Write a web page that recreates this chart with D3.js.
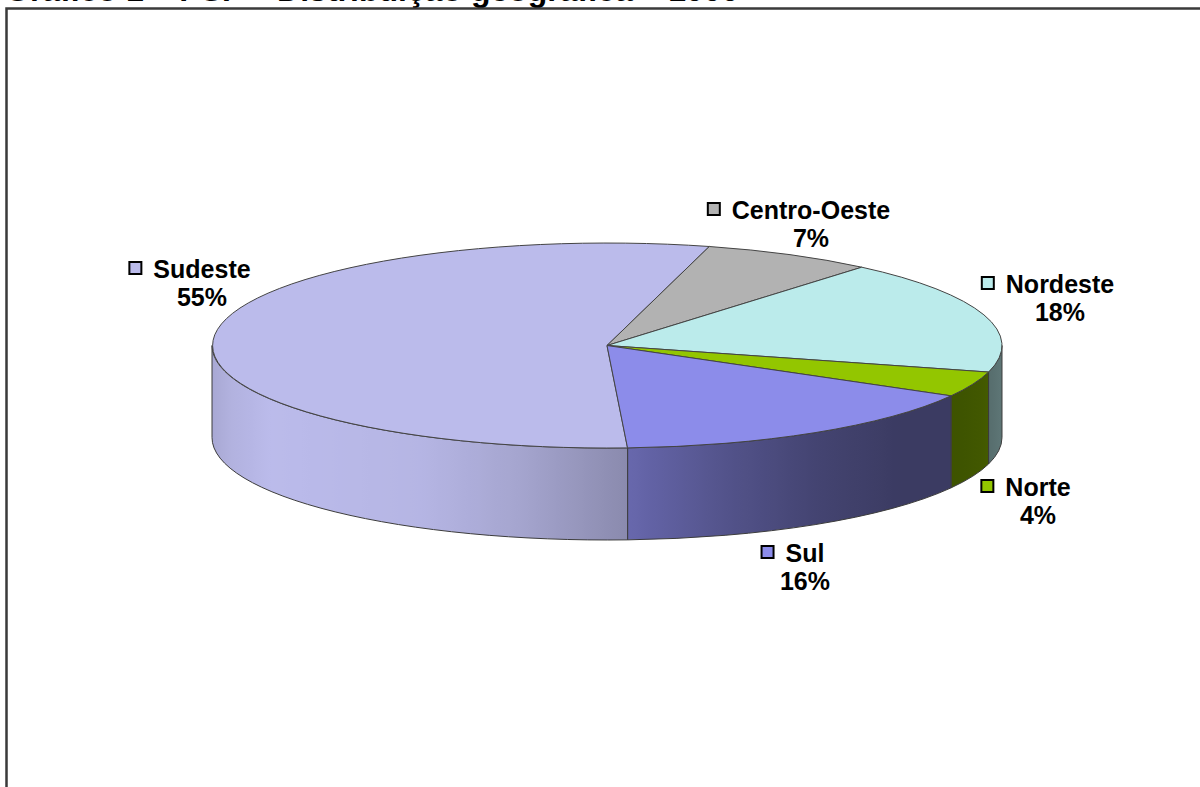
<!DOCTYPE html>
<html>
<head>
<meta charset="utf-8">
<script src="https://cdn.jsdelivr.net/npm/d3@7"></script>
<style>
  html, body { margin: 0; padding: 0; background: #ffffff; overflow: hidden; }
  svg { display: block; }
  text { font-family: Arial, "Liberation Sans", sans-serif; font-weight: bold; fill: #000; }
</style>
</head>
<body>
<script>
// Regional shares (%)
const categories = ["Sudeste", "Centro-Oeste", "Nordeste", "Norte", "Sul"];
const shares = [55, 7, 18, 4, 16];
const titleText = "Gráfico 1 – PSF – Distribuição geográfica – 1999";

// Styling
const topColors = ["#BBBBEB", "#B2B2B2", "#BBEBEB", "#93C600", "#8C8CEA"];
const labelPos = {
  "Sudeste":      { x: 202,  y: 278 },
  "Centro-Oeste": { x: 811,  y: 219 },
  "Nordeste":     { x: 1060, y: 293 },
  "Norte":        { x: 1038, y: 496 },
  "Sul":          { x: 805,  y: 562 }
};

const W = 1200, H = 787;
const cx = 607, cy = 345.5, rx = 395, ry = 102.5, depth = 92;
const deg = Math.PI / 180;
const start = 177 * deg;

const svg = d3.select("body").append("svg")
  .attr("width", W).attr("height", H);

// Title (sits above the frame)
svg.append("text")
  .attr("x", 5).attr("y", 0.5)
  .style("font-size", "32px")
  .text(titleText);

// Chart frame
svg.append("rect")
  .attr("x", 6.5).attr("y", 8.5)
  .attr("width", 1210).attr("height", 800)
  .attr("fill", "none")
  .attr("stroke", "#3a3a3a")
  .attr("stroke-width", 2.5);

const pie = d3.pie().sort(null).value(d => d)
  .startAngle(start).endAngle(start + 2 * Math.PI);
const arcs = pie(shares);

// Side shading: brightness as a function of horizontal position
const shade = d3.scaleLinear()
  .domain([212, 232, 270, 420, 520, 627, 720, 820, 900, 960, 985, 1002])
  .range([0.9, 0.95, 1.0, 0.97, 0.88, 0.74, 0.6, 0.48, 0.42, 0.42, 0.45, 0.5])
  .clamp(true);

const defs = svg.append("defs");
arcs.forEach((d, i) => {
  const g = defs.append("linearGradient")
    .attr("id", "side-" + i)
    .attr("gradientUnits", "userSpaceOnUse")
    .attr("x1", cx - rx).attr("x2", cx + rx)
    .attr("y1", 0).attr("y2", 0);
  const base = d3.rgb(topColors[i]);
  d3.range(0, 81).forEach(k => {
    const x = (cx - rx) + (2 * rx) * k / 80;
    const f = shade(x);
    g.append("stop")
      .attr("offset", k / 80)
      .attr("stop-color", d3.rgb(base.r * f, base.g * f, base.b * f).formatHex());
  });
});

const pt = (a, dy = 0) => [cx + rx * Math.sin(a), cy - ry * Math.cos(a) + dy];

// Visible (front) part of each slice's outer wall
const frontRanges = [[90 * deg, 270 * deg], [450 * deg, 630 * deg]];
const sides = [];
arcs.forEach((d, i) => {
  frontRanges.forEach(([f0, f1]) => {
    const s = Math.max(d.startAngle, f0), e = Math.min(d.endAngle, f1);
    if (e > s) sides.push({ i, s, e });
  });
});

const sidePath = ({ s, e }) => {
  const [x0, y0] = pt(s), [x1, y1] = pt(e);
  const [x2, y2] = pt(e, depth), [x3, y3] = pt(s, depth);
  return `M${x0},${y0}A${rx},${ry} 0 0 1 ${x1},${y1}L${x2},${y2}` +
         `A${rx},${ry} 0 0 0 ${x3},${y3}Z`;
};

svg.append("g").selectAll("path")
  .data(sides)
  .join("path")
  .attr("d", sidePath)
  .attr("fill", d => `url(#side-${d.i})`)
  .attr("stroke", "#3c3c3c")
  .attr("stroke-width", 1)
  .attr("stroke-linejoin", "round");

// Top face: unit pie scaled into an ellipse
const arc = d3.arc().innerRadius(0).outerRadius(1);
svg.append("g")
  .attr("transform", `translate(${cx},${cy}) scale(${rx},${ry})`)
  .selectAll("path")
  .data(arcs)
  .join("path")
  .attr("d", arc)
  .attr("fill", (d, i) => topColors[i])
  .attr("stroke", "#444")
  .attr("stroke-width", 1)
  .attr("stroke-linejoin", "round")
  .attr("vector-effect", "non-scaling-stroke");

// Data labels with legend keys
const labels = svg.append("g").selectAll("g")
  .data(arcs)
  .join("g");

labels.each(function (d, i) {
  const name = categories[i];
  const p = labelPos[name];
  const g = d3.select(this);
  const t = g.append("text")
    .attr("x", p.x).attr("y", p.y)
    .attr("text-anchor", "middle")
    .style("font-size", "25px")
    .text(name);
  g.append("text")
    .attr("x", p.x).attr("y", p.y + 28)
    .attr("text-anchor", "middle")
    .style("font-size", "25px")
    .text(shares[i] + "%");
  const w = t.node().getComputedTextLength();
  g.append("rect")
    .attr("x", p.x - w / 2 - 12 - 12)
    .attr("y", p.y - 16)
    .attr("width", 12).attr("height", 12)
    .attr("fill", topColors[i])
    .attr("stroke", "#000")
    .attr("stroke-width", 2);
});
</script>
</body>
</html>
